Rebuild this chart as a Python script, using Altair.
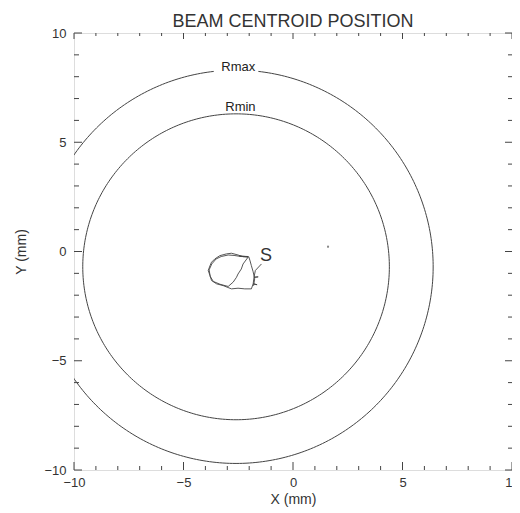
import altair as alt
import numpy as np
import pandas as pd

W, H = 438, 437

# Reference circles
circle_names = ["Rmax", "Rmin"]
circle_radii = [9.0, 7.0]
center_x = -2.6
center_y = -0.7
circle_gap_deg = [6.5, 0.0]     # half-width of the gap left for the label
label_x = [-2.5, -2.4]
label_y = [8.25, 6.42]

# Beam centroid trajectory (mm)
traj_x = [-1.44, -1.72, -1.78, -1.59, -1.78, -1.82, -1.64, -1.82, -1.90, -2.20,
          -2.51, -2.81, -3.19, -3.49, -3.72, -3.79, -3.87, -3.79, -3.72, -3.57,
          -3.34, -3.04, -2.81, -2.51, -2.28, -2.05, -2.28, -2.36, -2.51, -2.58,
          -2.73, -2.96, -3.33, -3.64, -3.78, -3.83, -3.71, -3.51, -3.28, -2.96,
          -2.69, -2.37, -2.05, -2.45, -2.02, -1.96, -1.90, -1.82, -1.75, -1.80]
traj_y = [-0.57, -0.87, -1.18, -1.16, -1.18, -1.48, -1.52, -1.48, -1.71, -1.71,
          -1.68, -1.71, -1.56, -1.48, -1.33, -1.10, -0.87, -0.65, -0.49, -0.34,
          -0.19, -0.11, -0.08, -0.16, -0.24, -0.26, -0.57, -0.80, -1.03, -1.18,
          -1.40, -1.60, -1.50, -1.37, -1.14, -0.84, -0.57, -0.34, -0.23, -0.16,
          -0.18, -0.23, -0.23, -0.21, -0.24, -0.43, -0.65, -0.93, -1.25, -1.57]

start_label = ["S"]
start_x = [-1.23]
start_y = [-0.2]

dot_x = [1.6]
dot_y = [0.22]

major_ticks = [-10, -5, 0, 5, 10]
minor_ticks = [-9, -8, -7, -6, -4, -3, -2, -1, 1, 2, 3, 4, 6, 7, 8, 9]

# --- build tables ---
rows = []
for name, r, gap in zip(circle_names, circle_radii, circle_gap_deg):
    ang = np.radians(np.linspace(90 + gap, 450 - gap, 361))
    for i, a in enumerate(ang):
        rows.append({"name": name, "i": i,
                     "x": center_x + r * np.cos(a),
                     "y": center_y + r * np.sin(a)})
circles = pd.DataFrame(rows)
labels = pd.DataFrame({"name": circle_names, "x": label_x, "y": label_y})
traj = pd.DataFrame({"x": traj_x, "y": traj_y, "i": range(len(traj_x))})
sdf = pd.DataFrame({"t": start_label, "x": start_x, "y": start_y})
dots = pd.DataFrame({"x": dot_x, "y": dot_y})
maj = pd.DataFrame({"v": major_ticks})
mnr = pd.DataFrame({"v": minor_ticks})

xs = alt.Scale(domain=[-10, 10], nice=False, zero=False)
ys = alt.Scale(domain=[-10, 10], nice=False, zero=False)
ink = "#333333"

xaxis = alt.Axis(values=major_ticks, ticks=False, domain=False, grid=False,
                 labelPadding=6, labelFontSize=13, labelColor=ink, format="d",
                 title="X (mm)", titleFontSize=14, titleFontWeight="normal",
                 titleColor=ink, titlePadding=3, labelFlush=False)
yaxis = alt.Axis(values=major_ticks, ticks=False, domain=False, grid=False,
                 labelPadding=8, labelFontSize=13, labelColor=ink, format="d",
                 title="Y (mm)", titleFontSize=14, titleFontWeight="normal",
                 titleColor=ink, titlePadding=15, labelFlush=False)

circ = alt.Chart(circles).mark_line(color="#444444", strokeWidth=1, clip=True).encode(
    x=alt.X("x:Q", scale=xs, axis=xaxis),
    y=alt.Y("y:Q", scale=ys, axis=yaxis),
    detail="name:N",
    order="i:Q",
)

lab = alt.Chart(labels).mark_text(fontSize=13, color="#222222", baseline="alphabetic",
                                  align="center", font="Liberation Sans").encode(
    x=alt.X("x:Q", scale=xs), y=alt.Y("y:Q", scale=ys), text="name:N")

tr = alt.Chart(traj).mark_line(color="#444444", strokeWidth=0.9).encode(
    x=alt.X("x:Q", scale=xs), y=alt.Y("y:Q", scale=ys), order="i:Q")

st = alt.Chart(sdf).mark_text(fontSize=18, color=ink, baseline="middle",
                              align="center", font="Liberation Sans").encode(
    x=alt.X("x:Q", scale=xs), y=alt.Y("y:Q", scale=ys), text="t:N")

dt = alt.Chart(dots).mark_point(shape="square", size=4, filled=True, color="#555555").encode(
    x=alt.X("x:Q", scale=xs), y=alt.Y("y:Q", scale=ys))

tc = "#444444"
def vticks(df, y0, y1):
    return alt.Chart(df).mark_rule(color=tc, strokeWidth=1).encode(
        x=alt.X("v:Q", scale=xs), y=alt.value(y0), y2=alt.value(y1))

def hticks(df, x0, x1):
    return alt.Chart(df).mark_rule(color=tc, strokeWidth=1).encode(
        y=alt.Y("v:Q", scale=ys), x=alt.value(x0), x2=alt.value(x1))

ticks = [
    vticks(maj, H, H - 8), vticks(mnr, H, H - 4),
    vticks(maj, 0, 6), vticks(mnr, 0, 3),
    hticks(maj, 0, 8), hticks(mnr, 0, 5),
    hticks(maj, W, W - 7), hticks(mnr, W, W - 4),
]

chart = alt.layer(circ, tr, lab, st, dt, *ticks).properties(
    width=W, height=H,
    title=alt.TitleParams("BEAM CENTROID POSITION", fontSize=18, fontWeight="normal",
                          color=ink, font="Liberation Sans", anchor="middle",
                          frame="group", offset=-4),
    autosize=alt.AutoSizeParams(type="none"),
    padding={"left": 66, "top": 25, "right": 0, "bottom": 37},
).configure_view(stroke="#444444", strokeWidth=1).configure(
    font="Liberation Sans", background="white")

chart.save("out.html", embed_options={"renderer": "svg", "actions": False})
